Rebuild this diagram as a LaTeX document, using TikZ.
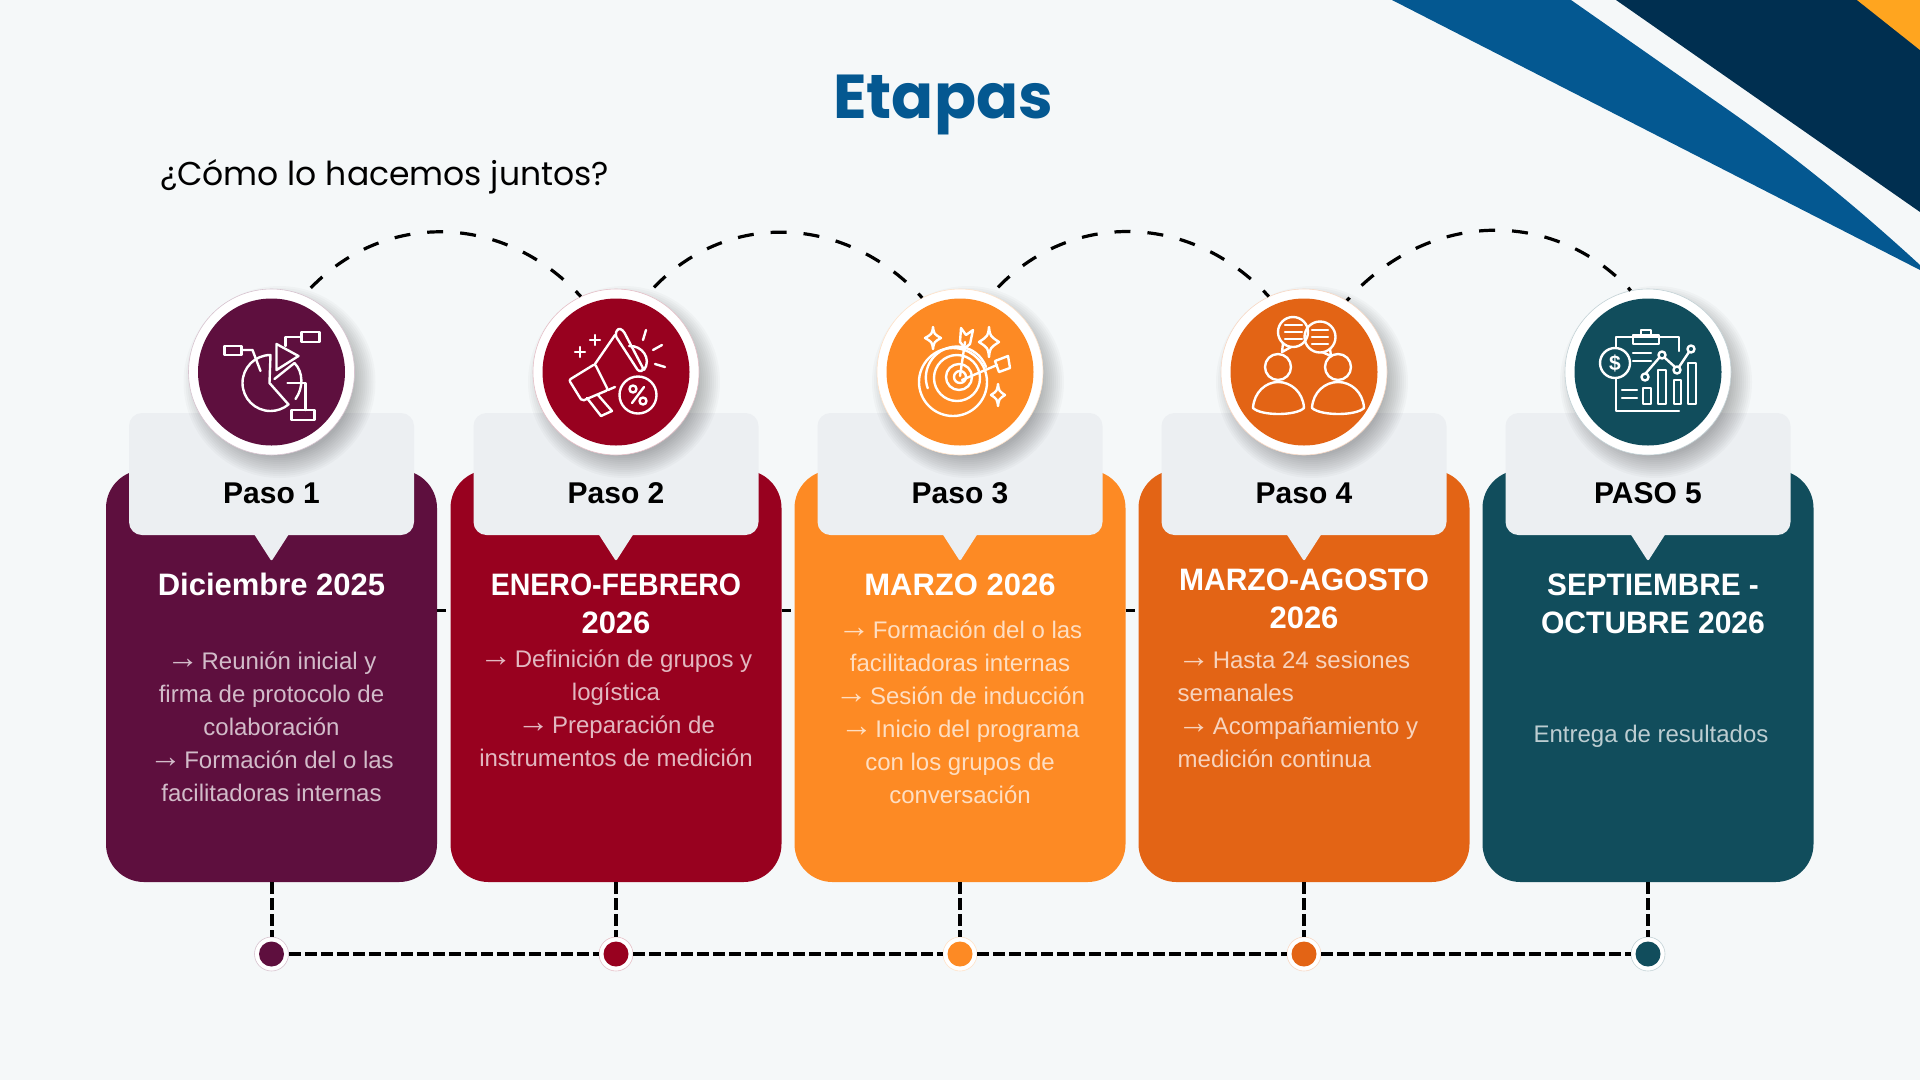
\documentclass[tikz,border=0pt]{standalone}
\usepackage{xcolor}
\usepackage{fontspec}
\setmainfont{Liberation Sans}
\newfontfamily\titlefont{Poppins}
\usepackage{tikz}
\usetikzlibrary{positioning,calc,shapes}
\definecolor{cpurple}{HTML}{5E0F3E}
\definecolor{cred}{HTML}{98011F}
\definecolor{cyellow}{HTML}{FD8A24}
\definecolor{corange}{HTML}{E36415}
\definecolor{cteal}{HTML}{114D5C}
\definecolor{cgray}{HTML}{ECEFF2}
\definecolor{cpaper}{HTML}{F5F8F9}
\definecolor{cblue}{HTML}{045891}
\definecolor{cnavy}{HTML}{002F50}
\definecolor{csun}{HTML}{FFA51F}
\newcommand{\flecha}{\raisebox{1pt}{\scalebox{1.35}{→}}\hspace{-4pt}}
\newcommand{\ringshade}[2]{\foreach \rad in {74,76,...,96}{\fill[black, opacity=.022] (#1+8,#2+10) circle (\rad pt);}}
\tikzstyle{tagbox}=[rectangle, fill=cgray, rounded corners=13pt, minimum width=285pt, minimum height=122pt, inner sep=0pt]
\tikzstyle{tagtip}=[fill=cgray, rounded corners=2pt]
\tikzstyle{taglab}=[anchor=base, font=\fontsize{30}{36}\selectfont\bfseries, text=black, inner sep=0pt]
\tikzstyle{headtxt}=[anchor=base, align=center, font=\fontsize{31}{38}\selectfont\bfseries, text=white, inner sep=0pt]
\tikzstyle{bodytxt}=[anchor=base, align=center, font=\fontsize{24}{33}\selectfont, text=white, text opacity=.72, inner sep=0pt]
\tikzstyle{arcline}=[black, line width=3.2pt, dash pattern=on 16pt off 17pt]
\tikzstyle{railline}=[black, line width=4pt, dash pattern=on 12pt off 4pt]
\tikzstyle{gapline}=[black, line width=3pt, dash pattern=on 9pt off 7pt]
\tikzstyle{ico}=[white, line width=2.4pt, line join=round, line cap=round]
\tikzset{
  card/.style={rectangle, fill=#1, rounded corners=38pt, minimum width=331pt, minimum height=412pt, inner sep=0pt},
  ring/.style={circle, fill=white, draw=#1!25, line width=.6pt, minimum size=166pt, inner sep=0pt,
    path picture={\fill[#1] (path picture bounding box.center) circle (73.5pt);}},
  dot/.style={circle, fill=white, draw=#1!25, line width=.6pt, minimum size=34pt, inner sep=0pt,
    path picture={\fill[#1] (path picture bounding box.center) circle (12.5pt);}},
  iconpie/.pic={
    \draw[ico] (-1,-17) arc (270:50:28) -- (-2,11) -- cycle;
    \draw[ico] (3,7) -- (23,-9) .. controls (32,0) and (32,16) .. (24,27);
    \draw[ico] (5,-28) -- (27,-16) -- (5,-2) -- cycle;
    \draw[ico] (-47,-26) rectangle (-30,-17);
    \draw[ico] (30,-40) rectangle (48,-30);
    \draw[ico] (20,38) rectangle (43,48);
    \draw[ico] (-30,-22) -- (-19,-22) -- (-11,-1);
    \draw[ico] (30,-35) -- (14,-35) -- (14,-26);
    \draw[ico] (34,38) -- (34,11) -- (16,11);
  },
  iconhorn/.pic={
    \draw[ico, rounded corners=2pt] (-47,8) -- (-21,-8) -- (-8,18) -- (-34,29) -- cycle;
    \draw[ico] (-21,-8) -- (-1,-37);
    \draw[ico] (-8,18) -- (-1,15);
    \draw[ico, rounded corners=3pt] (-1,-37) -- (2,-44) -- (7,-42) -- (28,-2) -- (23,0) -- cycle;
    \draw[ico] (13,-26) .. controls (26,-27) and (36,-13) .. (28,-2);
    \draw[ico] (-29,26) -- (-15,44) -- (-4,39) -- (-18,23);
    \draw[ico] (22,23) circle (18.5);
    \draw[ico] (17,17) circle (3.5);
    \draw[ico] (27,29) circle (3.5);
    \draw[ico] (28,15) -- (16,31);
    \draw[ico] (-41,-20) -- (-31,-20) (-36,-25) -- (-36,-15);
    \draw[ico] (-26,-32) -- (-16,-32) (-21,-37) -- (-21,-27);
    \draw[ico] (30,-42) -- (27,-32);
    \draw[ico] (46,-27) -- (37,-22);
    \draw[ico] (49,-5) -- (39,-8);
  },
  icontarget/.pic={
    \draw[ico] (-7,10) circle (34);
    \draw[ico] (26,-5) arc (-20:-200:31);
    \draw[ico] (-3,6) circle (23);
    \draw[ico] (-1,5) circle (13);
    \draw[ico] (0,5) circle (6);
    \draw[ico] (0,4) -- (5,-30);
    \draw[ico] (2,8) -- (37,-7);
    \draw[ico] (1,-44) -- (6,-37) -- (13,-42) -- (10,-28) -- (5,-24) -- (0,-30) -- cycle;
    \draw[ico] (35,-11) -- (48,-16) -- (50,-4) -- (39,0) -- cycle;
    \draw[ico] (-27,-45) .. controls (-26,-38) .. (-19,-34) .. controls (-26,-30) .. (-27,-23) .. controls (-28,-30) .. (-35,-34) .. controls (-28,-38) .. cycle;
    \draw[ico] (29,-45) .. controls (30,-36) .. (39,-30) .. controls (30,-24) .. (29,-15) .. controls (28,-24) .. (19,-30) .. controls (28,-36) .. cycle;
    \draw[ico] (38,12) .. controls (39,19) .. (45,23) .. controls (39,27) .. (38,34) .. controls (37,27) .. (31,23) .. controls (37,19) .. cycle;
  },
  iconpeople/.pic={
    \draw[ico] (-11,-40) circle (15);
    \draw[ico] (16,-35) circle (15.5);
    \draw[ico] (-21,-29) -- (-22,-20) -- (-13,-25);
    \draw[ico] (26,-23) -- (27,-16) -- (18,-20);
    \draw[ico] (-19,-47) -- (-2,-47) (-19,-40) -- (-2,-40) (-19,-33) -- (-2,-33);
    \draw[ico] (8,-42) -- (24,-42) (8,-35) -- (24,-35) (8,-28) -- (24,-28);
    \draw[ico] (-26,-5) circle (13);
    \draw[ico] (34,-5) circle (13);
    \draw[ico] (-51,36) .. controls (-50,20) and (-38,10) .. (-26,10) .. controls (-13,10) and (-1,20) .. (0,36) .. controls (-8,44) and (-43,44) .. cycle;
    \draw[ico] (8,36) .. controls (9,20) and (21,10) .. (34,10) .. controls (47,10) and (59,20) .. (60,36) .. controls (52,44) and (17,44) .. cycle;
  },
  iconreport/.pic={
    \draw[ico] (-32,-24) -- (-32,-35) -- (31,-35) -- (31,-21);
    \draw[ico] (-32,6) -- (-32,39) -- (31,39);
    \draw[ico] (-15,-37) rectangle (11,-28);
    \draw[ico] (-7,-37) -- (-7,-42) -- (3,-42) -- (3,-37);
    \draw[ico] (-33,-9) circle (15);
    \draw[ico] (-15,-19) -- (3,-19) (-15,-11) -- (3,-11);
    \draw[ico] (-26,18) -- (-11,18) (-26,26) -- (-11,26);
    \draw[ico] (-5,16) rectangle (3,32);
    \draw[ico] (10,-2) rectangle (18,32);
    \draw[ico] (26,8) rectangle (33,32);
    \draw[ico] (40,-9) rectangle (48,32);
    \draw[ico] (-2,1) -- (11,-14) (17,-14) -- (27,-5) (31,-5) -- (41,-20);
    \draw[ico] (-3,5) circle (3.5);
    \draw[ico] (14,-17) circle (3.5);
    \draw[ico] (29,-2) circle (3.5);
    \draw[ico] (43,-23) circle (3.5);
    \node[font=\fontsize{21}{21}\selectfont\bfseries, text=white, inner sep=0pt] (dollar) at (-33,-9) {\$};
  },
}
\begin{document}
\begin{tikzpicture}[x=1pt, y=-1pt]
	\useasboundingbox (0,0) rectangle (1920,1080);
	\fill[cpaper] (0,0) rectangle (1920,1080);
	% corner
	\fill[cblue] (1392,0) -- (1571,0) -- (1724,107) .. controls (1800,160) and (1860,210) .. (1920,265) -- (1920,270) -- cycle;
	\fill[cnavy] (1616,0) -- (1920,0) -- (1920,212) -- cycle;
	\fill[csun] (1857,0) -- (1920,0) -- (1920,50) -- cycle;
	% titles
	\node[anchor=base, text=cblue, inner sep=0pt, font=\titlefont\fontsize{62}{70}\selectfont\bfseries] (title) at (943,118) {Etapas};
	\node[anchor=base west, text=black, inner sep=0pt, font=\titlefont\fontsize{33}{38}\selectfont] (subtitle) at (160,185) {¿Cómo lo hacemos juntos?};
	% cards
	\node[card=cpurple] (card1) at (271.5,676) {};
	\node[card=cred] (card2) at (616,676) {};
	\node[card=cyellow] (card3) at (960,676) {};
	\node[card=corange] (card4) at (1304,676) {};
	\node[card=cteal] (card5) at (1648,676) {};
	\draw[gapline] ([yshift=66pt]card1.east) -- ([yshift=66pt]card2.west);
	\draw[gapline] ([yshift=66pt]card2.east) -- ([yshift=66pt]card3.west);
	\draw[gapline] ([yshift=66pt]card3.east) -- ([yshift=66pt]card4.west);
	% tags
	\node[tagbox] (tag1) at (271.5,474) {};
	\node[tagbox] (tag2) at (616,474) {};
	\node[tagbox] (tag3) at (960,474) {};
	\node[tagbox] (tag4) at (1304,474) {};
	\node[tagbox] (tag5) at (1648,474) {};
	\fill[tagtip] ($(tag1.south)+(-18,-2)$) -- ($(tag1.south)+(18,-2)$) -- ($(tag1.south)+(0,26)$) -- cycle;
	\fill[tagtip] ($(tag2.south)+(-18,-2)$) -- ($(tag2.south)+(18,-2)$) -- ($(tag2.south)+(0,26)$) -- cycle;
	\fill[tagtip] ($(tag3.south)+(-18,-2)$) -- ($(tag3.south)+(18,-2)$) -- ($(tag3.south)+(0,26)$) -- cycle;
	\fill[tagtip] ($(tag4.south)+(-18,-2)$) -- ($(tag4.south)+(18,-2)$) -- ($(tag4.south)+(0,26)$) -- cycle;
	\fill[tagtip] ($(tag5.south)+(-18,-2)$) -- ($(tag5.south)+(18,-2)$) -- ($(tag5.south)+(0,26)$) -- cycle;
	\node[taglab] (lab1) at (271.5,503) {Paso 1};
	\node[taglab] (lab2) at (616,503) {Paso 2};
	\node[taglab] (lab3) at (960,503) {Paso 3};
	\node[taglab] (lab4) at (1304,503) {Paso 4};
	\node[taglab] (lab5) at (1648,503) {PASO 5};
	% circles
	\ringshade{271.5}{372}
	\ringshade{616}{372}
	\ringshade{960}{372}
	\ringshade{1304}{372}
	\ringshade{1648}{372}
	\node[ring=cpurple] (c1) at (271.5,372) {};
	\node[ring=cred] (c2) at (616,372) {};
	\node[ring=cyellow] (c3) at (960,372) {};
	\node[ring=corange] (c4) at (1304,372) {};
	\node[ring=cteal] (c5) at (1648,372) {};
	\pic at (c1) {iconpie};
	\pic at (c2) {iconhorn};
	\pic at (c3) {icontarget};
	\pic at (c4) {iconpeople};
	\pic at (c5) {iconreport};
	% arcs
	\draw[arcline, dash phase=23pt] (c1.67) .. controls +(73,-84) and +(-80,-87) .. (c2.115);
	\draw[arcline, dash phase=23pt] (c2.68) .. controls +(73,-84) and +(-80,-87) .. (c3.117);
	\draw[arcline, dash phase=23pt] (c3.68) .. controls +(73,-84) and +(-80,-87) .. (c4.115);
	\draw[arcline, dash phase=12pt] (c4.59) .. controls +(80,-90) and +(-78,-84) .. (c5.102);
	% texts
	\node[headtxt] (head1) at (271.5,595) {Diciembre 2025};
	\node[headtxt] (head2) at (616,633) {\scalebox{.92}[1]{ENERO-FEBRERO}\\2026};
	\node[headtxt] (head3) at (960,595) {MARZO 2026};
	\node[headtxt] (head4) at (1304,628) {\scalebox{.97}[1]{MARZO-AGOSTO}\\2026};
	\node[headtxt] (head5) at (1653,633) {\scalebox{.96}[1]{SEPTIEMBRE -}\\\scalebox{.97}[1]{OCTUBRE 2026}};
	\node[bodytxt] (body1) at (271.5,801) {\flecha{} Reunión inicial y\\firma de protocolo de\\colaboración\\\flecha{} Formación del o las\\facilitadoras internas};
	\node[bodytxt] (body2) at (616,766) {\flecha{} Definición de grupos y\\logística\\\flecha{} Preparación de\\instrumentos de medición};
	\node[bodytxt] (body3) at (960,803) {\flecha{} Formación del o las\\facilitadoras internas\\\flecha{} Sesión de inducción\\\flecha{} Inicio del programa\\con los grupos de\\conversación};
	\node[bodytxt, anchor=base west, align=left] (body4) at (1177.5,767) {\flecha{} Hasta 24 sesiones\\semanales\\\flecha{} Acompañamiento y\\medición continua};
	\node[bodytxt] (body5) at (1651,742) {Entrega de resultados};
	% rail
	\node[dot=cpurple] (dot1) at (271.5,954) {};
	\node[dot=cred] (dot2) at (616,954) {};
	\node[dot=cyellow] (dot3) at (960,954) {};
	\node[dot=corange] (dot4) at (1304,954) {};
	\node[dot=cteal] (dot5) at (1648,954) {};
	\draw[railline] (card1.south) -- (dot1.north);
	\draw[railline] (card2.south) -- (dot2.north);
	\draw[railline] (card3.south) -- (dot3.north);
	\draw[railline] (card4.south) -- (dot4.north);
	\draw[railline] (card5.south) -- (dot5.north);
	\draw[railline] (dot1) -- (dot2);
	\draw[railline] (dot2) -- (dot3);
	\draw[railline] (dot3) -- (dot4);
	\draw[railline] (dot4) -- (dot5);
\end{tikzpicture}
\end{document}
